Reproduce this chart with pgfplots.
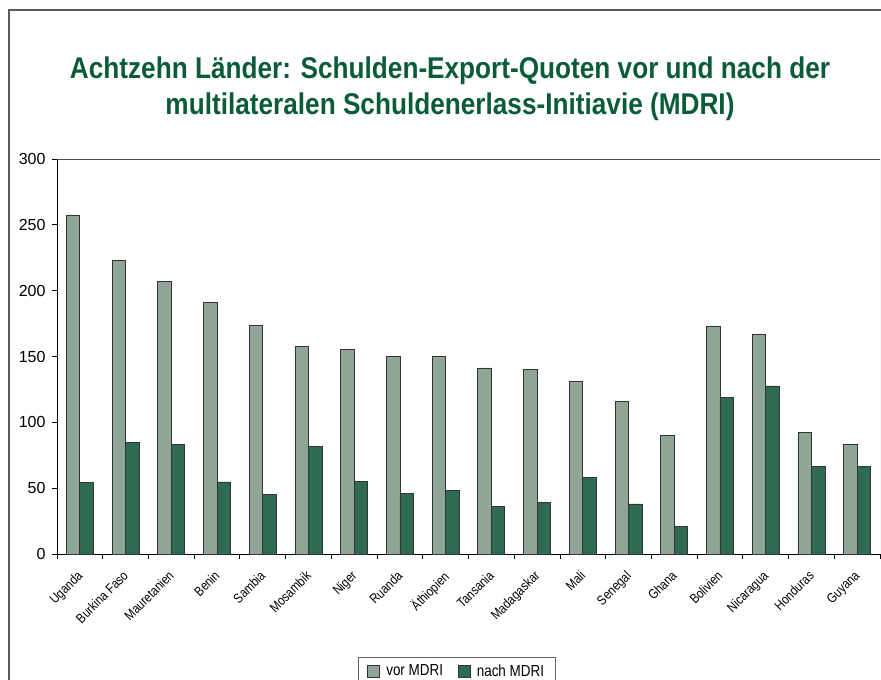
\documentclass[border=0pt]{standalone}
\usepackage{pgfplots}
\pgfplotsset{compat=1.18}
\usepackage{fontspec}
\setmainfont{Liberation Sans}
\newfontfamily\condfont[FakeStretch=0.84]{Liberation Sans}
\usepackage{graphicx}
\definecolor{vor}{HTML}{8FA596}
\definecolor{nach}{HTML}{2F6B52}
\definecolor{titlegreen}{HTML}{0A5C38}
\begin{document}
\begin{tikzpicture}
\useasboundingbox (0pt,0pt) rectangle (881pt,-680pt);
\draw[black!65, line width=1.3pt] (9pt,-690pt) -- (9pt,-10pt) -- (890pt,-10pt);
\node[anchor=base, text=titlegreen, font=\fontsize{30}{34}\selectfont\bfseries, inner sep=0pt] at (450pt,-78pt)
  {\resizebox{760pt}{\height}{Achtzehn Länder: Schulden-Export-Quoten vor und nach der}};
\node[anchor=base, text=titlegreen, font=\fontsize{30}{34}\selectfont\bfseries, inner sep=0pt] at (450pt,-114pt)
  {\resizebox{569pt}{\height}{multilateralen Schuldenerlass-Initiavie (MDRI)}};
\begin{axis}[
  at={(57pt,-554pt)}, anchor=south west,
  scale only axis, width=823pt, height=395pt,
  xmin=-0.5, xmax=17.5, ymin=0, ymax=300,
  ybar=0pt, bar width=13.5pt,
  axis x line*=bottom, axis y line*=left,
  axis line style={black, line width=0.8pt},
  tick align=outside, major tick length=5pt,
  tick style={black, line width=0.8pt},
  ytick={0,50,...,300},
  xtick={-0.5,0.5,...,17.5},
  x tick label as interval,
  xticklabels={Uganda,Burkina Faso,Mauretanien,Benin,Sambia,Mosambik,Niger,Ruanda,Äthiopien,Tansania,Madagaskar,Mali,Senegal,Ghana,Bolivien,Nicaragua,Honduras,Guyana},
  xticklabel style={font=\condfont\fontsize{13.5}{15}\selectfont, rotate=45, anchor=north east, inner sep=1pt, xshift=-9pt, yshift=-4pt},
  yticklabel style={font=\fontsize{16}{18}\selectfont, xshift=-3pt},
  /pgf/number format/assume math mode=true,
  legend style={at={(0.3657,-0.2608)}, anchor=north west, legend columns=2,
    draw=black!60, line width=1pt, font=\condfont\fontsize{16}{18}\selectfont,
    inner xsep=9pt, inner ysep=5pt,
    /tikz/every odd column/.append style={column sep=4pt},
    /tikz/every even column/.append style={column sep=13pt}},
  legend image code/.code={\draw[#1, line width=0.8pt] (3pt,-6pt) rectangle (15pt,6pt);},
]
\addplot[fill=vor, draw=black!80, line width=0.8pt] coordinates {
(0,257.5) (1,223.3) (2,206.8) (3,190.9) (4,173.7) (5,157.5) (6,155.2) (7,149.9) (8,149.9)
(9,141.3) (10,140) (11,131.2) (12,116) (13,89.8) (14,173) (15,166.8) (16,92) (17,83.5)};
\addplot[fill=nach, draw=black!80, line width=0.8pt] coordinates {
(0,54.4) (1,84.8) (2,83.3) (3,54.7) (4,45.3) (5,81.8) (6,55.2) (7,46.1) (8,48.6)
(9,35.9) (10,39) (11,58.3) (12,38) (13,20.7) (14,118.7) (15,127.6) (16,66.5) (17,66.3)};
\legend{vor MDRI,nach MDRI}
\draw[black!70, line width=0.8pt] (rel axis cs:0,1) -- (rel axis cs:1,1);
\draw[black!25, line width=0.8pt] (rel axis cs:1,0) -- (rel axis cs:1,1);
\end{axis}
\end{tikzpicture}
\end{document}
